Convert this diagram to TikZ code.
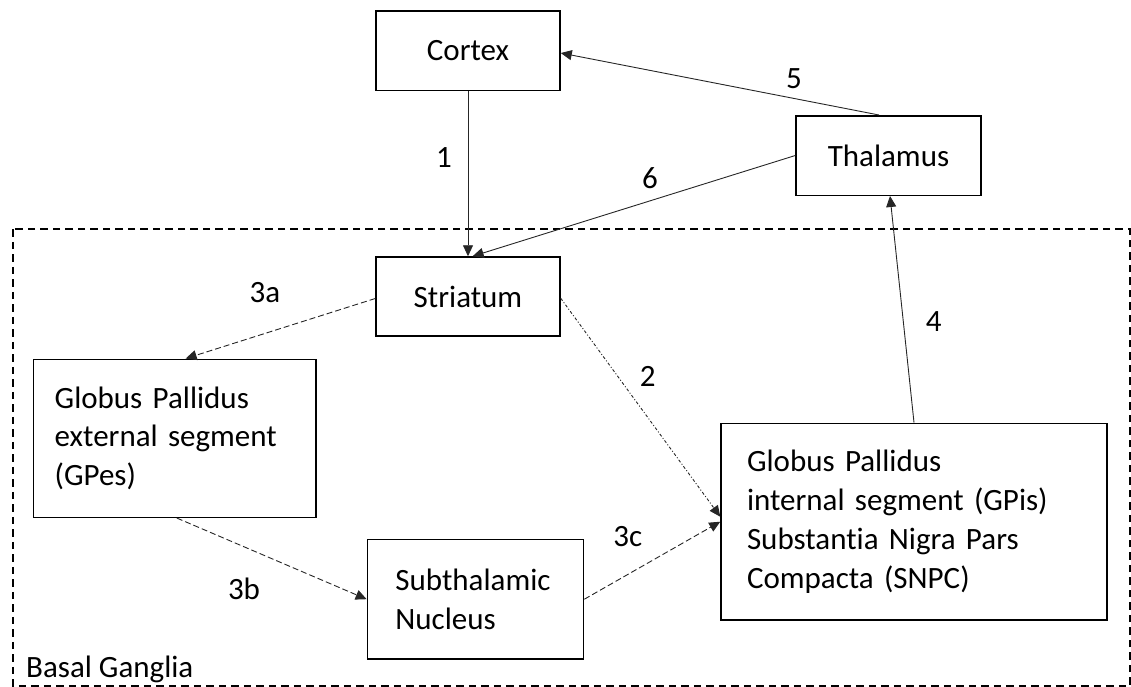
\documentclass[tikz,border=0pt]{standalone}
\usepackage{fontspec}
\setmainfont{Carlito}[Ligatures=NoCommon]
\usetikzlibrary{arrows.meta,calc}
\begin{document}
\begin{tikzpicture}[x=1pt,y=-1pt,
  box/.style={draw=black,line width=1.5pt,inner sep=0pt,font=\fontsize{31}{38.8}\selectfont},
  lbl/.style={inner sep=0pt,font=\fontsize{31}{38.8}\selectfont},
  conn/.style={draw=black!85,line width=0.9pt,-{Triangle[length=11pt,width=10pt]}},
  dashconn/.style={conn,dash pattern=on 6pt off 3pt},
  dotconn/.style={conn,dash pattern=on 3pt off 2pt on 1pt off 2pt},
  region/.style={draw=black,line width=2pt,dash pattern=on 7.5pt off 5pt}]
\useasboundingbox (0,0) rectangle (1131,686);
\path[region] (13.3,229.3) rectangle (1129.8,686.2);
\node[lbl,anchor=base west] (bg) at (26,677.3) {Basal Ganglia};
\node[box,minimum width=184pt,minimum height=79.5pt] (cortex) at (468,50.5) {Cortex};
\node[box,minimum width=185pt,minimum height=79.5pt] (thal) at (888.5,155.5) {Thalamus};
\node[box,minimum width=184pt,minimum height=79pt] (str) at (468,296.5) {Striatum};
\node[box,minimum width=282.3pt,minimum height=158pt,text width=240.3pt,inner xsep=21pt,align=left] (gpe) at (174.85,438.3) {Globus Pallidus\\external segment\\(GPes)};
\node[box,minimum width=216.2pt,minimum height=119.7pt,text width=160.2pt,inner xsep=28pt,align=left] (stn) at (475.5,599.2) {Subthalamic\\Nucleus};
\node[box,minimum width=386pt,minimum height=196.7pt,text width=334pt,inner xsep=26pt,align=left] (gpi) at (914,521.7) {Globus Pallidus\\internal segment (GPis)\\Substantia Nigra Pars\\Compacta (SNPC)};
\draw[conn] (cortex.south) -- (str.north);
\draw[conn] (thal.west) -- ([xshift=4.6pt]str.north);
\draw[conn] ([xshift=-9.5pt]thal.north) -- ([yshift=-2.5pt]cortex.east);
\draw[conn] (gpi.north) -- ([xshift=1.5pt]thal.south);
\draw[dashconn] ([yshift=-2pt]str.west) -- ([xshift=10.8pt]gpe.north);
\draw[dashconn] ([xshift=2pt]gpe.south) -- (stn.west);
\draw[dashconn] (stn.east) -- (gpi.west);
\draw[dotconn] ([yshift=-1.8pt]str.east) -- ([yshift=5pt]gpi.west);
\node[lbl] (l1) at (444,158) {1};
\node[lbl] (l5) at (794,79) {5};
\node[lbl] (l6) at (650,178) {6};
\node[lbl] (l4) at (933.6,321.7) {4};
\node[lbl] (l2) at (647.7,376.7) {2};
\node[lbl] (l3a) at (265,293) {3a};
\node[lbl] (l3b) at (244,589) {3b};
\node[lbl] (l3c) at (627.7,536.7) {3c};
\end{tikzpicture}
\end{document}
